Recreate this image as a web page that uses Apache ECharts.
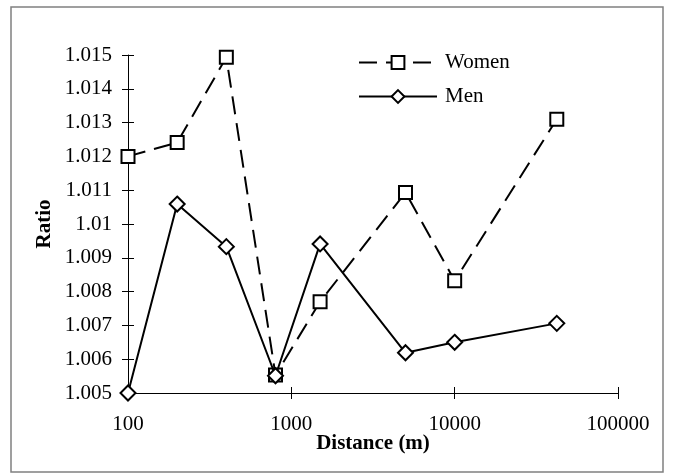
<!DOCTYPE html>
<html>
<head>
<meta charset="utf-8">
<script src="https://cdn.jsdelivr.net/npm/echarts@6/dist/echarts.min.js"></script>
<style>
  html, body { margin: 0; padding: 0; background: #fff; }
  #main { width: 673px; height: 473px; }
</style>
</head>
<body>
<div id="main"></div>
<script>
const distances = [100, 200, 400, 800, 1500, 5000, 10000, 42195];
const women = [1.0120, 1.01241, 1.01493, 1.00553, 1.00770, 1.01093, 1.00832, 1.01310];
const men = [1.0050, 1.01059, 1.00933, 1.00551, 1.00941, 1.00619, 1.00650, 1.00706];
const seriesNames = ["Women", "Men"];

const FONT = "Liberation Serif";

function pairs(values) {
  return distances.map((d, i) => [d, values[i]]);
}

const chart = echarts.init(document.getElementById('main'));

const xBase = {
  type: 'log',
  logBase: 10,
  min: 100,
  max: 100000,
  gridIndex: 0,
  position: 'bottom',
  splitLine: { show: false }
};

const yBase = {
  type: 'value',
  min: 1.005,
  max: 1.015,
  interval: 0.001,
  position: 'left',
  splitLine: { show: false }
};

const option = {
  animation: false,
  backgroundColor: '#fff',
  grid: { left: 128, right: 55, top: 55, bottom: 80 },
  graphic: [{
    type: 'rect',
    shape: { x: 11, y: 7, width: 652, height: 465 },
    style: { fill: 'none', stroke: '#808080', lineWidth: 1.5 },
    silent: true
  }],
  legend: {
    orient: 'vertical',
    left: 353,
    top: 47,
    itemWidth: 78,
    itemHeight: 16,
    itemGap: 13,
    data: seriesNames,
    textStyle: { fontFamily: FONT, fontSize: 21, color: '#000', padding: [0, 0, 0, 3] }
  },
  xAxis: [
    Object.assign({}, xBase, {
      name: 'Distance (m)',
      nameLocation: 'middle',
      nameGap: 40,
      nameMoveOverlap: false,
      nameTextStyle: { fontFamily: FONT, fontSize: 21, fontWeight: 'bold', color: '#000' },
      axisLine: { show: true, lineStyle: { color: '#000', width: 1 } },
      axisTick: { show: true, length: 6, lineStyle: { color: '#000' } },
      axisLabel: {
        fontFamily: FONT, fontSize: 21, color: '#000', margin: 21,
        formatter: v => String(Math.round(v))
      }
    }),
    Object.assign({}, xBase, {
      axisLine: { show: false },
      axisTick: { show: true, inside: true, length: 6, lineStyle: { color: '#000' } },
      axisLabel: { show: false }
    })
  ],
  yAxis: [
    Object.assign({}, yBase, {
      name: 'Ratio',
      nameLocation: 'middle',
      nameGap: 73,
      nameMoveOverlap: false,
      nameTextStyle: { fontFamily: FONT, fontSize: 21, fontWeight: 'bold', color: '#000' },
      axisLine: { show: true, lineStyle: { color: '#000', width: 1 } },
      axisTick: { show: true, length: 6, lineStyle: { color: '#000' } },
      axisLabel: { fontFamily: FONT, fontSize: 21, color: '#000', margin: 16 }
    }),
    Object.assign({}, yBase, {
      axisLine: { show: false },
      axisTick: { show: true, inside: true, length: 6, lineStyle: { color: '#000' } },
      axisLabel: { show: false }
    })
  ],
  series: [
    {
      name: seriesNames[0],
      type: 'line',
      data: pairs(women),
      clip: false,
      symbol: 'rect',
      symbolSize: 13,
      lineStyle: { color: '#000', width: 2, type: [18, 9] },
      itemStyle: { color: '#fff', borderColor: '#000', borderWidth: 2 },
      z: 2
    },
    {
      name: seriesNames[1],
      type: 'line',
      data: pairs(men),
      clip: false,
      symbol: 'diamond',
      symbolSize: 15,
      lineStyle: { color: '#000', width: 2, type: 'solid' },
      itemStyle: { color: '#fff', borderColor: '#000', borderWidth: 2 },
      z: 3
    }
  ]
};

chart.setOption(option);
window.addEventListener('resize', () => { chart.resize(); });
</script>
</body>
</html>
